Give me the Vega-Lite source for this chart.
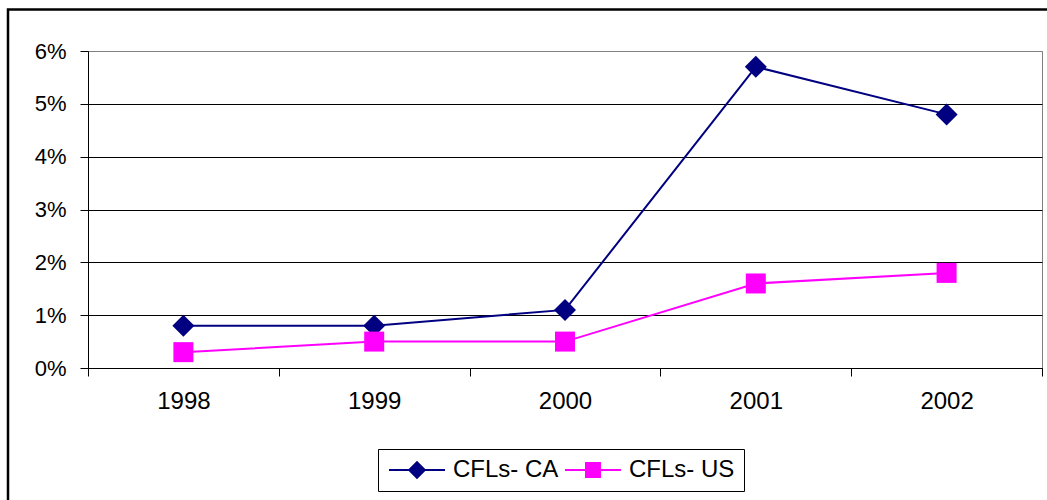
{
  "$schema": "https://vega.github.io/schema/vega-lite/v6.json",
  "width": 954,
  "height": 317,
  "autosize": {"type": "none"},
  "padding": {"left": 88, "top": 51, "right": 5, "bottom": 132},
  "background": "white",
  "config": {
    "view": {"stroke": "#808080", "strokeWidth": 1},
    "font": "Liberation Sans",
    "axis": {
      "labelFont": "Liberation Sans",
      "labelFontSize": 22,
      "labelColor": "black",
      "domainColor": "black",
      "domainWidth": 1,
      "tickColor": "black",
      "tickSize": 8,
      "title": null
    }
  },
  "data": {
    "values": [
      {"year": "1998", "series": "CFLs- CA", "share": 0.008},
      {"year": "1999", "series": "CFLs- CA", "share": 0.008},
      {"year": "2000", "series": "CFLs- CA", "share": 0.011},
      {"year": "2001", "series": "CFLs- CA", "share": 0.057},
      {"year": "2002", "series": "CFLs- CA", "share": 0.048},
      {"year": "1998", "series": "CFLs- US", "share": 0.003},
      {"year": "1999", "series": "CFLs- US", "share": 0.005},
      {"year": "2000", "series": "CFLs- US", "share": 0.005},
      {"year": "2001", "series": "CFLs- US", "share": 0.016},
      {"year": "2002", "series": "CFLs- US", "share": 0.018}
    ]
  },
  "layer": [
    {
      "data": {"values": [{}]},
      "mark": {"type": "rect", "fill": null, "stroke": "black", "strokeWidth": 2.5},
      "encoding": {
        "x": {"value": -80},
        "y": {"value": -41.5},
        "x2": {"value": 1000},
        "y2": {"value": 500}
      }
    },
    {
      "mark": {"type": "line", "strokeWidth": 2},
      "encoding": {
        "x": {
          "field": "year",
          "type": "ordinal",
          "bandPosition": 0.5,
          "scale": {"type": "band", "paddingInner": 0, "paddingOuter": 0},
          "axis": {"tickBand": "extent", "labelAngle": 0, "labelPadding": 13, "labelFontSize": 24, "grid": false}
        },
        "y": {
          "field": "share",
          "type": "quantitative",
          "scale": {"domain": [0, 0.06], "nice": false},
          "axis": {
            "values": [0, 0.01, 0.02, 0.03, 0.04, 0.05, 0.06],
            "format": ".0%",
            "labelPadding": 14,
            "grid": true,
            "gridColor": {"condition": {"test": "datum.value >= 0.06", "value": "#808080"}, "value": "black"},
            "gridOpacity": 1,
            "gridWidth": 1
          }
        },
        "color": {
          "field": "series",
          "type": "nominal",
          "scale": {"domain": ["CFLs- CA", "CFLs- US"], "range": ["#000080", "#FF00FF"]},
          "legend": {
            "title": null,
            "orient": "none",
            "direction": "horizontal",
            "legendX": 290,
            "legendY": 398,
            "strokeColor": "black",
            "fillColor": "white",
            "padding": 9,
            "columnPadding": 2,
            "labelOffset": 24,
            "symbolOffset": 18,
            "labelFont": "Liberation Sans",
            "labelFontSize": 24,
            "labelColor": "black",
            "symbolSize": 400,
            "symbolStrokeWidth": 2,
            "encode": {
              "symbols": {
                "update": {
                  "shape": {"signal": "datum.value === 'CFLs- CA' ? 'M-2.8,0H2.8M0,-0.78L0.78,0L0,0.78L-0.78,0Z' : 'M-2.8,0H2.8M-0.7,-0.7H0.7V0.7H-0.7Z'"},
                  "size": {"value": 400},
                  "fill": {"scale": "color", "field": "value"},
                  "stroke": {"scale": "color", "field": "value"},
                  "strokeWidth": {"value": 2},
                  "opacity": {"value": 1}
                }
              }
            }
          }
        }
      }
    },
    {
      "transform": [{"filter": "datum.series === 'CFLs- CA'"}],
      "mark": {"type": "point", "filled": true, "opacity": 1, "size": 400, "shape": "M-1.1,0L0,-1.1L1.1,0L0,1.1Z"},
      "encoding": {
        "x": {"field": "year", "type": "ordinal", "bandPosition": 0.5},
        "y": {"field": "share", "type": "quantitative"},
        "color": {"field": "series", "type": "nominal"}
      }
    },
    {
      "transform": [{"filter": "datum.series === 'CFLs- US'"}],
      "mark": {"type": "point", "filled": true, "opacity": 1, "size": 400, "shape": "square"},
      "encoding": {
        "x": {"field": "year", "type": "ordinal", "bandPosition": 0.5},
        "y": {"field": "share", "type": "quantitative"},
        "color": {"field": "series", "type": "nominal"}
      }
    }
  ]
}
